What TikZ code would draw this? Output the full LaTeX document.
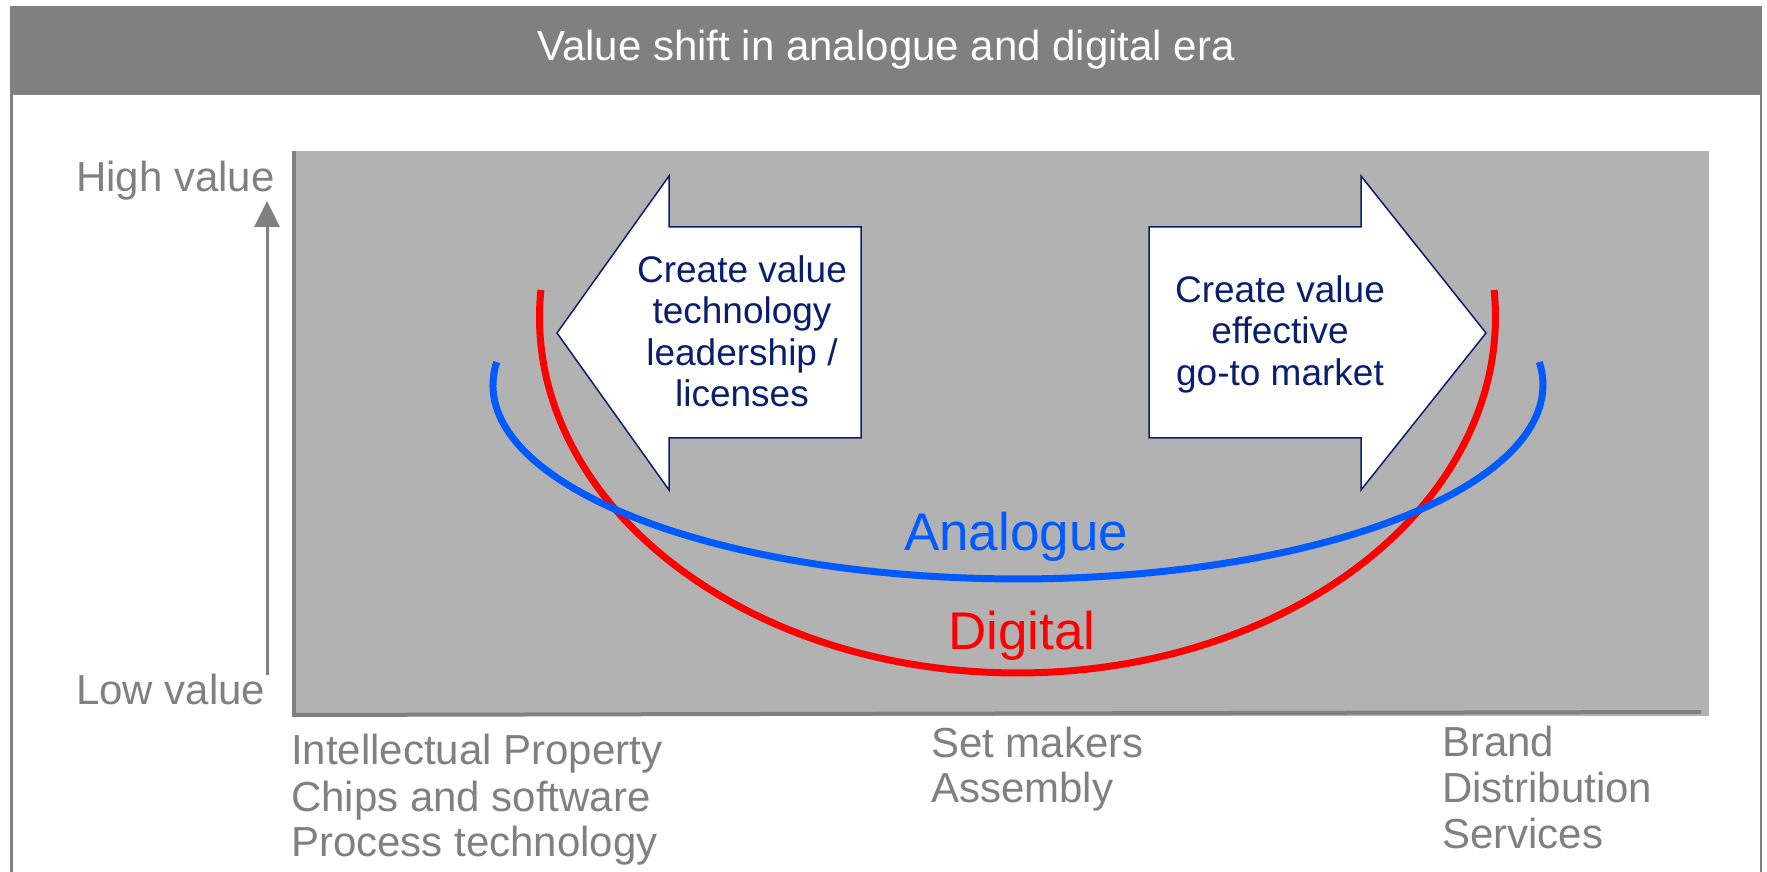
\documentclass[tikz,border=0pt]{standalone}
\usepackage{fontspec}
\setmainfont{Liberation Sans}
\usetikzlibrary{arrows.meta}

\definecolor{framegray}{RGB}{128,128,128}
\definecolor{plotgray}{RGB}{178,178,178}
\definecolor{navy}{RGB}{10,30,110}
\definecolor{anablue}{RGB}{0,90,255}
\definecolor{digred}{RGB}{255,0,0}

\begin{document}
\begin{tikzpicture}[x=1pt,y=1pt,
  graylabel/.style={font=\fontsize{42}{46}\selectfont, text=framegray, inner sep=0pt, anchor=base west},
  arrowtext/.style={font=\fontsize{37}{41.5}\selectfont, text=navy, inner sep=0pt, anchor=base},
  blockarrow/.style={fill=white, draw=navy, line width=1.5pt, line join=miter},
  curve/.style={line width=7pt},
  curvelabel/.style={font=\fontsize{53}{60}\selectfont, inner sep=0pt, anchor=base},
]
\useasboundingbox (0,0) rectangle (1767,872);

% title bar and panel frame
\fill[framegray] (9.5,777.3) rectangle (1762,866);
\node[font=\fontsize{42}{46}\selectfont, text=white, inner sep=0pt] (title) at (886,822) {Value shift in analogue and digital era};
\draw[framegray, line width=3pt] (11,777.3) -- (11,0);
\draw[framegray, line width=2pt] (1761,777.3) -- (1761,0);

% plot area
\fill[plotgray] (292,156) rectangle (1709,721);
\draw[framegray, line width=4pt] (294,721) -- (294,155);
\draw[framegray, line width=4pt] (292,157) -- (1701,160);

% value axis
\coordinate (ylow) at (267,197);
\coordinate (yhigh) at (267,671);
\draw[framegray, line width=3pt, -{Triangle[length=26pt,width=25pt]}] (ylow) -- (yhigh);
\node[graylabel] (high) at (76,680) {High value};
\node[graylabel] (low) at (76,167.5) {Low value};

% block arrow pointing left
\draw[blockarrow] (557,539) -- (669,696) -- (669,645) -- (861,645) -- (861,434)
  -- (669,434) -- (669,382) -- cycle;
\node[arrowtext] (la1) at (742,589) {Create value};
\node[arrowtext] (la2) at (742,548) {technology};
\node[arrowtext] (la3) at (742,506) {leadership /};
\node[arrowtext] (la4) at (742,465) {licenses};

% block arrow pointing right
\draw[blockarrow] (1149,645) -- (1361,645) -- (1361,696) -- (1486,539) -- (1361,382)
  -- (1361,434) -- (1149,434) -- cycle;
\node[arrowtext] (ra1) at (1280,569) {Create value};
\node[arrowtext] (ra2) at (1280,528) {effective};
\node[arrowtext] (ra3) at (1280,486) {go-to market};

% value curves
\draw[curve, digred] (540.9,582) arc[start angle=175.65, end angle=364.35, x radius=478pt, y radius=356pt];
\draw[curve, anablue] (496.7,510) arc[start angle=173.2, end angle=366.8, x radius=525pt, y radius=194pt];
\node[curvelabel, text=anablue] (analogue) at (1016,321) {Analogue};
\node[curvelabel, text=digred] (digital) at (1022,222) {Digital};

% value chain stages
\node[graylabel] (ip1) at (291,107) {Intellectual Property};
\node[graylabel] (ip2) at (291,60.5) {Chips and software};
\node[graylabel] (ip3) at (291,15) {Process technology};
\node[graylabel] (sm1) at (931,114.7) {Set makers};
\node[graylabel] (sm2) at (931,69) {Assembly};
\node[graylabel] (br1) at (1442,115) {Brand};
\node[graylabel] (br2) at (1442,69) {Distribution};
\node[graylabel] (br3) at (1442,23) {Services};
\end{tikzpicture}
\end{document}
